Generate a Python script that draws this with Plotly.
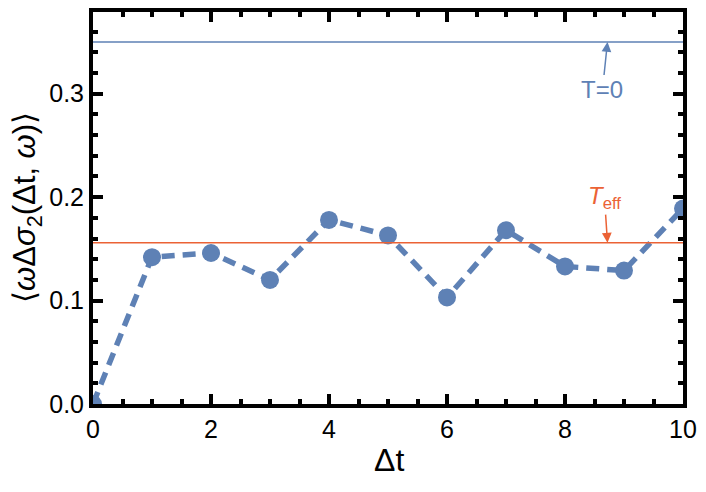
import plotly.graph_objects as go

dt = [0, 1, 2, 3, 4, 5, 6, 7, 8, 9, 10]
corr = [0.0, 0.142, 0.146, 0.120, 0.178, 0.163, 0.103, 0.168, 0.133, 0.129, 0.189]
t0_level = 0.35
teff_level = 0.156

BLUE = "#5E81B5"
ORANGE = "#EB6235"
FONT = "Liberation Sans, Arial, DejaVu Sans, sans-serif"

fig = go.Figure()
fig.add_trace(go.Scatter(
    x=dt, y=corr, mode="lines+markers",
    line=dict(color=BLUE, width=5.5, dash="13px,8px"),
    marker=dict(color=BLUE, size=18),
    showlegend=False,
))
fig.add_hline(y=t0_level, line=dict(color=BLUE, width=1.5))
fig.add_hline(y=teff_level, line=dict(color=ORANGE, width=1.5))

fig.add_annotation(x=8.72, y=t0_level, text="T=0", showarrow=True,
                   ax=-5, ay=48, arrowhead=2, arrowsize=1.3, arrowwidth=1.5,
                   arrowcolor=BLUE, font=dict(color=BLUE, size=24, family=FONT))
fig.add_annotation(x=8.72, y=teff_level, text="<i>T</i><sub>eff</sub>", showarrow=True,
                   ax=-3, ay=-45, arrowhead=2, arrowsize=1.3, arrowwidth=1.5,
                   arrowcolor=ORANGE, font=dict(color=ORANGE, size=24, family=FONT))

# axis titles placed as annotations for exact positioning
fig.add_annotation(xref="paper", yref="paper", x=0.502, y=0, yshift=-56,
                   xanchor="center", yanchor="middle", showarrow=False,
                   text="Δt", font=dict(size=32, family=FONT, color="black"))
fig.add_annotation(xref="paper", yref="paper", x=0, xshift=-66, y=0.5,
                   xanchor="center", yanchor="middle", showarrow=False, textangle=-90,
                   text="⟨<i>ω</i>Δ<i>σ</i><sub>2</sub>(Δt, <i>ω</i>)⟩",
                   font=dict(size=31, family=FONT, color="black"))

axis_common = dict(
    showline=True, linewidth=4, linecolor="black", mirror="ticks",
    ticks="inside", ticklen=10, tickwidth=4, tickcolor="black",
    showgrid=False, zeroline=False, automargin=False,
    tickfont=dict(size=25, color="black", family=FONT),
)
fig.update_xaxes(range=[0, 10], tick0=0, dtick=2,
                 minor=dict(ticks="inside", ticklen=5, tickwidth=4, dtick=0.5, tickcolor="black"),
                 **axis_common)
fig.update_yaxes(range=[0, 0.379], tick0=0, dtick=0.1, tickformat=".1f",
                 minor=dict(ticks="inside", ticklen=5, tickwidth=4, dtick=0.02, tickcolor="black"),
                 **axis_common)

fig.update_layout(
    width=706, height=492,
    margin=dict(l=93, r=23, t=12, b=88),
    plot_bgcolor="white", paper_bgcolor="white",
    font=dict(family=FONT, color="black"),
)
fig.write_html("out.html", config={"displayModeBar": False},
               post_script="document.body.style.margin='0';")
